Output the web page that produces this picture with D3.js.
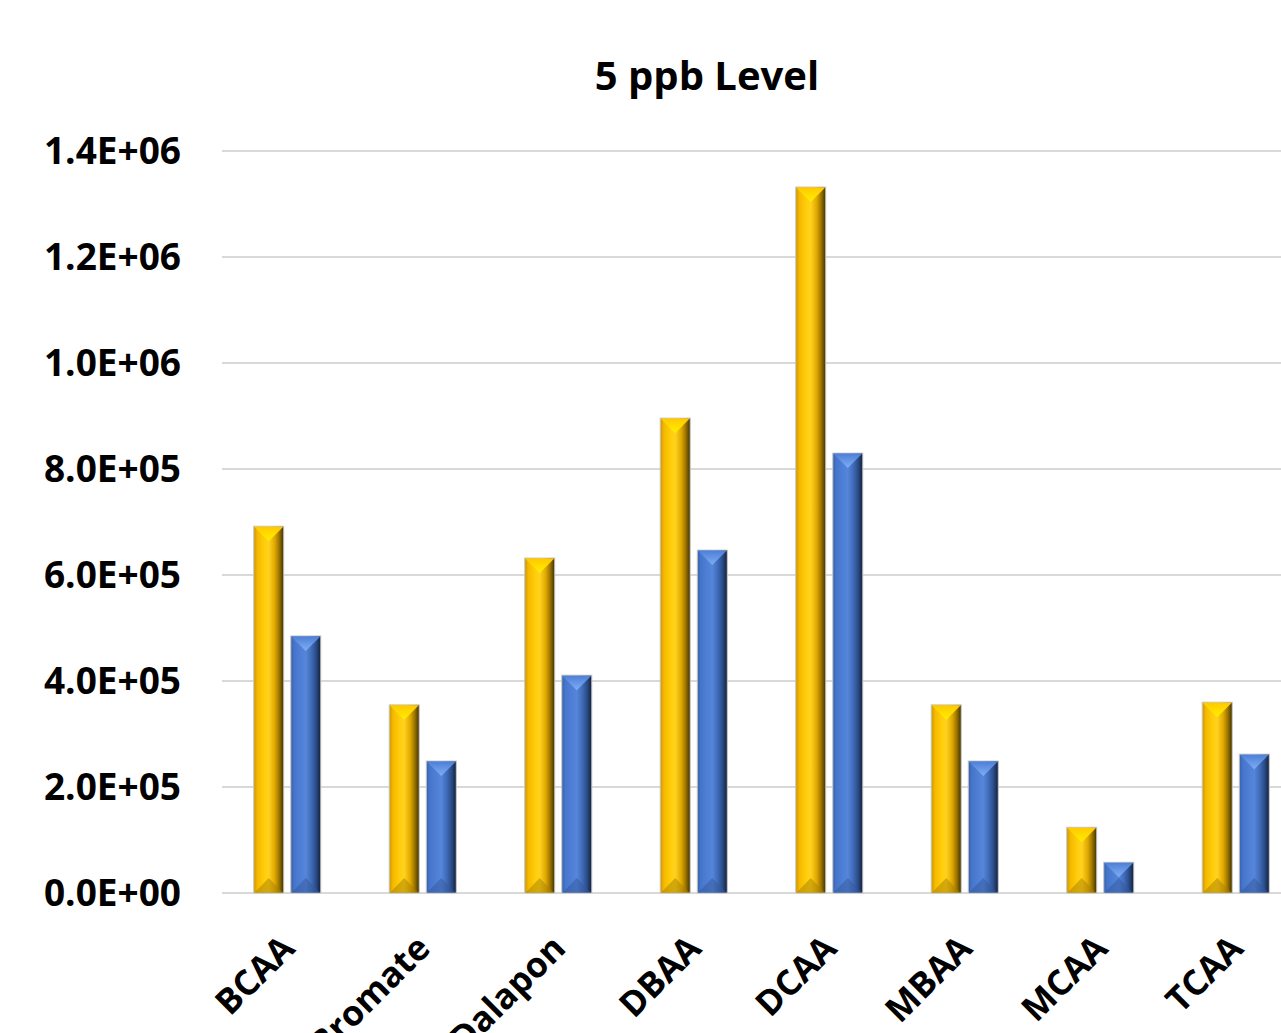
<!DOCTYPE html>
<html>
<head>
<meta charset="utf-8">
<script src="https://cdn.jsdelivr.net/npm/d3@7"></script>
<style>
  body { margin: 0; background: #fff; }
  svg { display: block; font-family: "Open Sans", sans-serif; }
</style>
</head>
<body>
<svg id="chart" width="1281" height="1033"></svg>
<script>
// chart data
const categories = ['BCAA', 'Bromate', 'Dalapon', 'DBAA', 'DCAA', 'MBAA', 'MCAA', 'TCAA'];
const seriesNames = ['yellow', 'blue'];
const yellowValues = [692000, 355000, 632000, 896000, 1332000, 355000, 124000, 360000];
const blueValues = [485000, 249000, 411000, 647000, 830000, 249000, 58000, 262000];
const yTicks = [0, 200000, 400000, 600000, 800000, 1000000, 1200000, 1400000];

const svg = d3.select('#chart');
const plotLeft = 222, plotBottom = 893, plotTop = 151;
const step = 135.5;

const x0 = d3.scaleBand()
  .domain(categories)
  .range([plotLeft - 2.5, plotLeft - 2.5 + step * categories.length])
  .paddingInner(0.505)
  .paddingOuter(0.2525);

const x1 = d3.scaleBand()
  .domain(seriesNames)
  .range([0, x0.bandwidth()])
  .paddingInner(0.19);

const y = d3.scaleLinear().domain([0, 1400000]).range([plotBottom, plotTop]);

const defs = svg.append('defs');
const grads = {
  yellow: ['#c99600', '#f5b800', '#ffcd0a', '#ffd21f', '#e0a800', '#9a7400', '#3f2f00'],
  blue: ['#3760a8', '#4676cc', '#4f80d6', '#5686da', '#3d68b4', '#2a4a84', '#121f38']
};
const offs = [0, 0.12, 0.35, 0.5, 0.7, 0.85, 1];
Object.keys(grads).forEach(k => {
  const g = defs.append('linearGradient').attr('id', 'g-' + k)
    .attr('x1', 0).attr('x2', 1).attr('y1', 0).attr('y2', 0);
  grads[k].forEach((c, i) => g.append('stop').attr('offset', offs[i]).attr('stop-color', c));
});
const topCap = { yellow: ['#fff000', '#ffc800'], blue: ['#80aef5', '#4d7fd6'] };
Object.keys(topCap).forEach(k => {
  const g = defs.append('linearGradient').attr('id', 't-' + k)
    .attr('x1', 0).attr('x2', 0).attr('y1', 1).attr('y2', 0);
  g.append('stop').attr('offset', 0).attr('stop-color', topCap[k][0]);
  g.append('stop').attr('offset', 1).attr('stop-color', topCap[k][1]);
});
const botCap = { yellow: '#a88000', blue: '#34589a' };

// grid + y labels
svg.append('g').selectAll('line')
  .data(yTicks)
  .join('line')
  .attr('x1', plotLeft).attr('x2', 1281)
  .attr('y1', d => y(d)).attr('y2', d => y(d))
  .attr('stroke', '#d9d9d9').attr('stroke-width', 2);

svg.append('g').selectAll('text')
  .data(yTicks)
  .join('text')
  .attr('x', 181).attr('y', d => y(d))
  .attr('dy', '0.36em')
  .attr('text-anchor', 'end')
  .attr('font-size', 37).attr('font-weight', 700).attr('fill', '#000')
  .text(d => d.toExponential(1).replace('e', 'E').replace(/E([+-])(\d)$/, 'E$10$2'));

// title
svg.append('text')
  .attr('x', 707).attr('y', 90)
  .attr('text-anchor', 'middle')
  .attr('font-size', 40).attr('font-weight', 700)
  .text('5 ppb Level');

// bars
const rows = categories.map((c, i) => ({ cat: c, values: [yellowValues[i], blueValues[i]] }));
const groups = svg.append('g').selectAll('g')
  .data(rows)
  .join('g')
  .attr('transform', d => `translate(${x0(d.cat)},0)`);

groups.selectAll('g')
  .data(d => d.values.map((v, i) => ({ key: seriesNames[i], v })))
  .join('g')
  .each(function (d) {
    const g = d3.select(this);
    const bx = x1(d.key), w = x1.bandwidth();
    const yt = y(d.v), yb = y(0);
    const bev = Math.min(w / 2, (yb - yt) / 2);
    g.append('rect')
      .attr('x', bx).attr('y', yt).attr('width', w).attr('height', yb - yt)
      .attr('fill', `url(#g-${d.key})`)
      .attr('stroke', '#c8c8c8').attr('stroke-width', 1);
    g.append('path')
      .attr('d', `M${bx + 0.5},${yt + 0.5} L${bx + w - 0.5},${yt + 0.5} L${bx + w / 2},${yt + bev} Z`)
      .attr('fill', `url(#t-${d.key})`);
    g.append('path')
      .attr('d', `M${bx + 0.5},${yb} L${bx + w - 0.5},${yb} L${bx + w / 2},${yb - bev} Z`)
      .attr('fill', botCap[d.key]).attr('opacity', 0.5);
  });

// x labels
svg.append('g').selectAll('text')
  .data(categories)
  .join('text')
  .attr('transform', d => `translate(${x0(d) + x0.bandwidth() / 2 - 8},${933}) rotate(-45)`)
  .attr('text-anchor', 'end')
  .attr('dy', '0.7em')
  .attr('font-size', 35).attr('font-weight', 700)
  .text(d => d);
</script>
</body>
</html>
